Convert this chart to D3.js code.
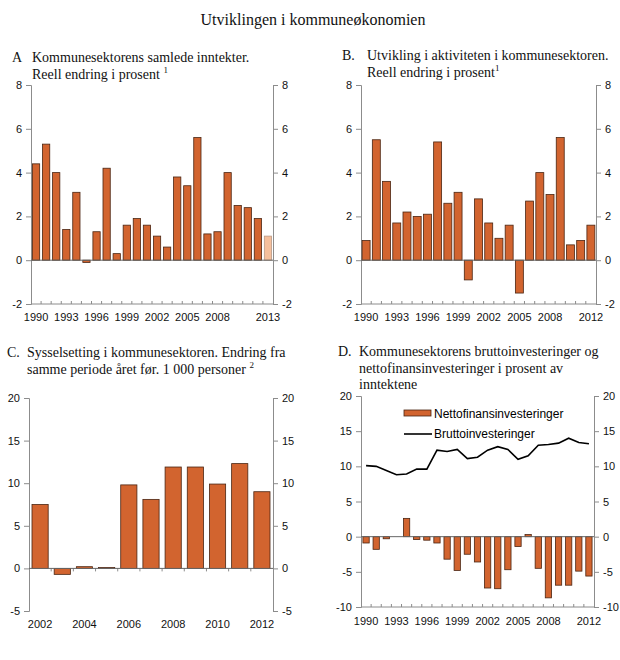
<!DOCTYPE html>
<html>
<head>
<meta charset="utf-8">
<script src="https://cdn.jsdelivr.net/npm/d3@7"></script>
<style>
  body { margin: 0; background: #fff; }
  .ttl { font-family: "Liberation Serif", "Times New Roman", serif; fill: #111; }
  .tick text { font-family: "Liberation Sans", Arial, sans-serif; font-size: 11px; fill: #111; }
</style>
</head>
<body>
<script>
// panel A
const yearsA = ["1990","1991","1992","1993","1994","1995","1996","1997","1998","1999","2000","2001","2002","2003","2004","2005","2006","2007","2008","2009","2010","2011","2012","2013"];
const valuesA = [4.4, 5.3, 4.0, 1.4, 3.1, -0.1, 1.3, 4.2, 0.3, 1.6, 1.9, 1.6, 1.1, 0.6, 3.8, 3.4, 5.6, 1.2, 1.3, 4.0, 2.5, 2.4, 1.9, 1.1];
const labelsA = ["1990","1993","1996","1999","2002","2005","2008","2013"];
// panel B
const yearsB = ["1990","1991","1992","1993","1994","1995","1996","1997","1998","1999","2000","2001","2002","2003","2004","2005","2006","2007","2008","2009","2010","2011","2012"];
const valuesB = [0.9, 5.5, 3.6, 1.7, 2.2, 2.0, 2.1, 5.4, 2.6, 3.1, -0.9, 2.8, 1.7, 1.0, 1.6, -1.5, 2.7, 4.0, 3.0, 5.6, 0.7, 0.9, 1.6];
const labelsB = ["1990","1993","1996","1999","2002","2005","2008","2012"];
// panel C
const yearsC = ["2002","2003","2004","2005","2006","2007","2008","2009","2010","2011","2012"];
const valuesC = [7.5, -0.7, 0.2, 0.1, 9.8, 8.1, 11.9, 11.9, 9.9, 12.3, 9.0];
const labelsC = ["2002","2004","2006","2008","2010","2012"];
// panel D
const yearsD = yearsB;
const nettoD = [-0.9, -1.8, -0.3, 0, 2.6, -0.4, -0.5, -0.9, -3.2, -4.8, -2.5, -3.6, -7.3, -7.4, -4.7, -1.4, 0.3, -4.5, -8.7, -6.9, -6.9, -4.9, -5.6];
const bruttoD = [10.1, 10.0, 9.4, 8.8, 8.9, 9.6, 9.6, 12.3, 12.1, 12.4, 11.1, 11.3, 12.3, 12.8, 12.4, 11.0, 11.5, 13.0, 13.1, 13.3, 14.0, 13.4, 13.2];
const labelsD = labelsB;

const ticks8 = [-2, 0, 2, 4, 6, 8];
const ticks20 = [-5, 0, 5, 10, 15, 20];
const ticks20b = [-10, -5, 0, 5, 10, 15, 20];

const orange = "#d2642f";
const axisGrey = "#8c8c8c";
const fmt = v => String(v); // vanlig bindestrek, ikke unicode-minus

const svg = d3.select("body").append("svg")
    .attr("width", 620)
    .attr("height", 660);

svg.append("text")
    .attr("class", "ttl")
    .attr("x", 313)
    .attr("y", 25)
    .attr("text-anchor", "middle")
    .style("font-size", "16px")
    .text("Utviklingen i kommuneøkonomien");

function panelTitle(letterX, textX, y0, letter, lines, sup) {
    const t = svg.append("text").attr("class", "ttl").style("font-size", "14px");
    t.append("tspan").attr("x", letterX).attr("y", y0).text(letter);
    lines.forEach((l, i) => {
        t.append("tspan").attr("x", textX).attr("y", y0 + i * 16.5).text(l);
    });
    if (sup) {
        t.append("tspan").attr("dy", -6).style("font-size", "9px").text(sup);
    }
}

function drawPanel(p) {
    const g = svg.append("g");
    const x = d3.scaleBand()
        .domain(p.years)
        .range([p.left, p.right])
        .paddingInner(p.pad)
        .paddingOuter(p.pad / 2);
    const y = d3.scaleLinear()
        .domain(p.yDomain)
        .range([p.bottom, p.top]);

    //akse venstre
    g.append("g")
        .attr("transform", `translate(${p.left},0)`)
        .call(d3.axisLeft(y).tickValues(p.yTicks).tickFormat(fmt).tickSize(5).tickPadding(4))
        .call(a => a.selectAll("line,path").attr("stroke", axisGrey));

    //akse hoyre
    g.append("g")
        .attr("transform", `translate(${p.right},0)`)
        .call(d3.axisRight(y).tickValues(p.yTicks).tickFormat(fmt).tickSize(5).tickPadding(4))
        .call(a => a.selectAll("line,path").attr("stroke", axisGrey));

    //grenser mellom kategorier
    const gap = x.step() - x.bandwidth();
    const bounds = p.years.slice(1).map(d => x(d) - gap / 2);
    const tickY = p.bottomLine ? y(p.yDomain[0]) : y(0);
    const tickDir = p.bottomLine ? -3 : 3;

    if (p.bottomLine) {
        g.append("line")
            .attr("x1", p.left).attr("x2", p.right)
            .attr("y1", y(p.yDomain[0])).attr("y2", y(p.yDomain[0]))
            .attr("stroke", axisGrey);
    }
    g.selectAll(".btick")
        .data(bounds)
        .enter()
        .append("line")
        .attr("x1", d => d).attr("x2", d => d)
        .attr("y1", tickY).attr("y2", tickY + tickDir)
        .attr("stroke", axisGrey);

    //arstall
    g.append("g")
        .attr("transform", `translate(0,${y(p.yDomain[0])})`)
        .call(d3.axisBottom(x).tickValues(p.labels).tickSize(0).tickPadding(p.labelPad))
        .call(a => a.select(".domain").remove());

    //stolper
    g.selectAll(".bar")
        .data(p.values.map((v, i) => ({ year: p.years[i], value: v })))
        .enter()
        .append("rect")
        .attr("x", d => x(d.year))
        .attr("y", d => y(Math.max(0, d.value)))
        .attr("width", x.bandwidth())
        .attr("height", d => Math.abs(y(d.value) - y(0)))
        .attr("fill", d => (p.light && d.year === p.light) ? "#f5bf9c" : orange)
        .attr("stroke", d => (p.light && d.year === p.light) ? "#b99a86" : "#4a2512")
        .attr("stroke-width", 0.8);

    //nullinje
    g.append("line")
        .attr("x1", p.left).attr("x2", p.right)
        .attr("y1", y(0)).attr("y2", y(0))
        .attr("stroke", "#666");

    return { g, x, y };
}

panelTitle(12, 32, 62, "A", ["Kommunesektorens samlede inntekter.", "Reell endring i prosent "], "1");
drawPanel({
    years: yearsA, values: valuesA, labels: labelsA,
    left: 31, right: 273, top: 85, bottom: 304,
    yDomain: [-2, 8], yTicks: ticks8, pad: 0.28,
    bottomLine: true, labelPad: 9, light: "2013"
});

panelTitle(342, 367, 60, "B.", ["Utvikling i aktiviteten i kommunesektoren.", "Reell endring i prosent"], "1");
drawPanel({
    years: yearsB, values: valuesB, labels: labelsB,
    left: 361, right: 596, top: 85, bottom: 304,
    yDomain: [-2, 8], yTicks: ticks8, pad: 0.22,
    bottomLine: true, labelPad: 9
});

panelTitle(7, 27, 357, "C.", ["Sysselsetting i kommunesektoren. Endring fra", "samme periode året før. 1 000 personer "], "2");
drawPanel({
    years: yearsC, values: valuesC, labels: labelsC,
    left: 29, right: 273, top: 398, bottom: 611,
    yDomain: [-5, 20], yTicks: ticks20, pad: 0.27,
    bottomLine: false, labelPad: 9
});

panelTitle(338, 359, 356, "D.", ["Kommunesektorens bruttoinvesteringer og", "nettofinansinvesteringer i prosent av", "inntektene"], null);
const d = drawPanel({
    years: yearsD, values: nettoD, labels: labelsD,
    left: 361, right: 594, top: 396, bottom: 607,
    yDomain: [-10, 20], yTicks: ticks20b, pad: 0.38,
    bottomLine: true, labelPad: 10
});

//bruttoinvesteringer
const line = d3.line()
    .x((v, i) => d.x(yearsD[i]) + d.x.bandwidth() / 2)
    .y(v => d.y(v));
d.g.append("path")
    .datum(bruttoD)
    .attr("d", line)
    .attr("fill", "none")
    .attr("stroke", "#000")
    .attr("stroke-width", 1.6);

//legende
const leg = d.g.append("g").style("font-family", "'Liberation Sans', Arial, sans-serif").style("font-size", "12px");
leg.append("rect")
    .attr("x", 404).attr("y", 410).attr("width", 27).attr("height", 6)
    .attr("fill", orange).attr("stroke", "#4a2512").attr("stroke-width", 0.8);
leg.append("text").attr("x", 434).attr("y", 418).text("Nettofinansinvesteringer");
leg.append("line")
    .attr("x1", 404).attr("x2", 432).attr("y1", 434).attr("y2", 434)
    .attr("stroke", "#000").attr("stroke-width", 1.6);
leg.append("text").attr("x", 434).attr("y", 438).text("Bruttoinvesteringer");
</script>
</body>
</html>
